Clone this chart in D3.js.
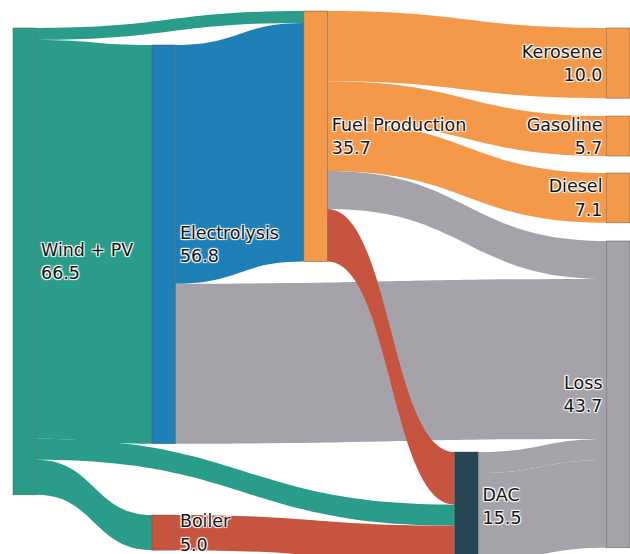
<!DOCTYPE html>
<html>
<head>
<meta charset="utf-8">
<script src="https://cdn.jsdelivr.net/npm/d3@7"></script>
<style>
  body { margin: 0; background: #fff; }
  .node-label {
    font-family: "DejaVu Sans", Verdana, sans-serif;
    font-size: 17.5px;
    fill: #161616;
    text-shadow: 1px 1px 1px #fff, -1px -1px 1px #fff, 1px -1px 1px #fff, -1px 1px 1px #fff;
  }
</style>
</head>
<body>
<div id="chart"></div>
<script>
// nodes
const nodeNames = ["Wind + PV", "Electrolysis", "Boiler", "Fuel Production", "DAC",
  "Kerosene", "Gasoline", "Diesel", "Loss"];
const nodeCarriers = ["power", "hydrogen", "heat", "fuel", "co2", "fuel", "fuel", "fuel", "loss"];

// links
const linkSources = [0, 0, 0, 0, 1, 1, 3, 3, 3, 3, 3, 2, 4, 4];
const linkTargets = [3, 1, 4, 2, 3, 8, 5, 6, 7, 8, 4, 4, 8, 8];
const linkValues = [1.7, 56.8, 3.0, 5.0, 34.0, 22.8, 10.0, 5.7, 7.1, 5.4, 7.5, 5.0, 3.0, 12.5];
const linkCarriers = ["power", "power", "power", "power", "hydrogen", "loss", "fuel", "fuel",
  "fuel", "loss", "heat", "heat", "loss", "loss"];

// fixed arrangement (like plotly node.x / node.y): column fraction, top in value units
const nodeX = [0, 0.234, 0.234, 0.49, 0.744, 1, 1, 1, 1];
const nodeY = [2.42, 4.84, 71.8, 0, 62.82, 2.42, 14.96, 23.08, 32.76];

const width = 630;
const height = 554;
const nodeWidth = 23.5;
const pxPerUnit = 7.02;

const color = d3
  .scaleOrdinal()
  .domain(["power", "hydrogen", "heat", "fuel", "co2", "loss"])
  .range(["#2a9d8a", "#1f80b8", "#c6543f", "#f4994a", "#264653", "#a6a2aa"]);

const x = d3.scaleLinear().domain([0, 1]).range([13, width - nodeWidth]);
const y = d3.scaleLinear().domain([0, 1]).range([11, 11 + pxPerUnit]);

const svg = d3
  .select("#chart")
  .append("svg")
  .attr("width", width)
  .attr("height", height);

const nodes = nodeNames.map(function (name, i) {
  return { index: i, name: name, carrier: nodeCarriers[i], sourceLinks: [], targetLinks: [] };
});
const links = linkValues.map(function (v, i) {
  const l = { index: i, value: v, carrier: linkCarriers[i], source: nodes[linkSources[i]], target: nodes[linkTargets[i]] };
  l.source.sourceLinks.push(l);
  l.target.targetLinks.push(l);
  return l;
});

nodes.forEach(function (n) {
  n.value = Math.max(d3.sum(n.sourceLinks, (l) => l.value), d3.sum(n.targetLinks, (l) => l.value));
  n.x0 = x(nodeX[n.index]);
  n.x1 = n.x0 + nodeWidth;
  n.y0 = y(nodeY[n.index]);
  n.y1 = n.y0 + n.value * pxPerUnit;
});

// stack link ends on each node, ordered by the other end's top
nodes.forEach(function (n) {
  let sy = n.y0;
  n.sourceLinks
    .slice()
    .sort((a, b) => a.target.y0 - b.target.y0 || a.index - b.index)
    .forEach(function (l) {
      l.sy0 = sy;
      sy += l.value * pxPerUnit;
      l.sy1 = sy;
    });
  let ty = n.y0;
  n.targetLinks
    .slice()
    .sort((a, b) => a.source.y0 - b.source.y0 || a.index - b.index)
    .forEach(function (l) {
      l.ty0 = ty;
      ty += l.value * pxPerUnit;
      l.ty1 = ty;
    });
});

function linkPath(l) {
  const x0 = l.source.x1;
  const x1 = l.target.x0;
  const xi = d3.interpolateNumber(x0, x1);
  const xa = xi(0.5);
  const xb = xi(0.5);
  return (
    "M" + x0 + "," + l.sy0 +
    "C" + xa + "," + l.sy0 + " " + xb + "," + l.ty0 + " " + x1 + "," + l.ty0 +
    "L" + x1 + "," + l.ty1 +
    "C" + xb + "," + l.ty1 + " " + xa + "," + l.sy1 + " " + x0 + "," + l.sy1 +
    "Z"
  );
}

svg
  .append("g")
  .selectAll("path")
  .data(links)
  .enter()
  .append("path")
  .attr("d", linkPath)
  .style("fill", (d) => color(d.carrier));

svg
  .append("g")
  .selectAll("rect")
  .data(nodes)
  .enter()
  .append("rect")
  .attr("x", (d) => d.x0)
  .attr("y", (d) => d.y0)
  .attr("width", (d) => d.x1 - d.x0)
  .attr("height", (d) => d.y1 - d.y0)
  .style("fill", (d) => color(d.carrier))
  .style("stroke", "#444")
  .style("stroke-opacity", 0.7)
  .style("stroke-width", 0.6);

const labels = svg
  .append("g")
  .selectAll("text")
  .data(nodes)
  .enter()
  .append("text")
  .attr("class", "node-label")
  .attr("text-anchor", (d) => (nodeX[d.index] === 1 ? "end" : "start"))
  .attr("x", (d) => (nodeX[d.index] === 1 ? d.x0 - 4 : d.x1 + 4.5));

labels
  .append("tspan")
  .attr("x", (d) => (nodeX[d.index] === 1 ? d.x0 - 4 : d.x1 + 4.5))
  .attr("y", (d) => (d.y0 + d.y1) / 2 - 5.5)
  .text((d) => d.name);

labels
  .append("tspan")
  .attr("x", (d) => (nodeX[d.index] === 1 ? d.x0 - 4 : d.x1 + 4.5))
  .attr("y", (d) => (d.y0 + d.y1) / 2 + 18)
  .text((d) => d.value.toFixed(1));
</script>
</body>
</html>
